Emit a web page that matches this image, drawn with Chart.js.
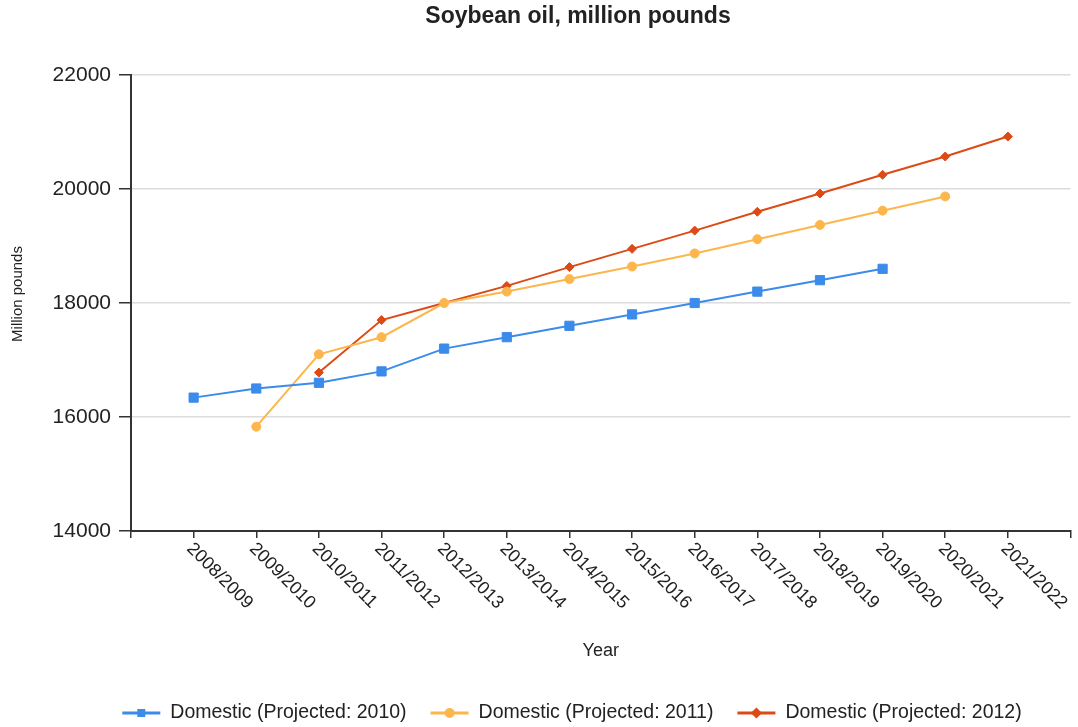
<!DOCTYPE html>
<html>
<head>
<meta charset="utf-8">
<script src="https://cdn.jsdelivr.net/npm/chart.js@4/dist/chart.umd.min.js"></script>
<style>
  html, body { margin: 0; padding: 0; background: #fff; }
  #wrap { width: 1078px; height: 727px; }
</style>
</head>
<body>
<div id="wrap"><canvas id="c" width="1078" height="727"></canvas></div>
<script>
// Marketing years on the horizontal axis
const marketingYears = [
  '2008/2009', '2009/2010', '2010/2011', '2011/2012', '2012/2013', '2013/2014', '2014/2015',
  '2015/2016', '2016/2017', '2017/2018', '2018/2019', '2019/2020', '2020/2021', '2021/2022'
];

// Domestic soybean oil use, million pounds, by projection vintage
const domestic2010 = [16340, 16500, 16600, 16800, 17200, 17400, 17600, 17800, 18000, 18200, 18400, 18600, null, null];
const domestic2011 = [null, 15830, 17100, 17400, 18000, 18200, 18420, 18640, 18870, 19120, 19370, 19620, 19870, null];
const domestic2012 = [null, null, 16780, 17700, 18000, 18300, 18630, 18950, 19270, 19600, 19920, 20250, 20570, 20920];

const seriesNames = ['Domestic (Projected: 2010)', 'Domestic (Projected: 2011)', 'Domestic (Projected: 2012)'];
const yTickValues = [14000, 16000, 18000, 20000, 22000];

const chartTitle = 'Soybean oil, million pounds';
const xAxisTitle = 'Year';
const yAxisTitle = 'Million pounds';

const FONT = "'Liberation Sans', Arial, sans-serif";
const TEXT = '#222222';
const AXIS = '#333333';

const styles = [
  { color: '#3b8beb', marker: 'rect', radius: 6.5 },
  { color: '#fcb64c', marker: 'circle', radius: 4.5 },
  { color: '#dc4a16', marker: 'rectRot', radius: 4.5 }
];

function toPoints(values) {
  return values.map((v, i) => (v == null ? null : { x: i, y: v })).filter(p => p);
}

const datasets = [domestic2010, domestic2011, domestic2012].map((vals, k) => ({
  label: seriesNames[k],
  data: toPoints(vals),
  borderColor: styles[k].color,
  backgroundColor: styles[k].color,
  borderWidth: 2,
  tension: 0,
  pointStyle: styles[k].marker,
  pointRadius: styles[k].radius,
  pointHoverRadius: styles[k].radius,
  pointBorderWidth: 1,
  pointBackgroundColor: styles[k].color,
  pointBorderColor: styles[k].color
}));

// Title, rotated category labels, vertical axis title and legend
const decorations = {
  id: 'decorations',
  afterDraw(chart) {
    const ctx = chart.ctx;
    const xs = chart.scales.x;
    const ys = chart.scales.y;
    ctx.save();
    ctx.fillStyle = TEXT;

    // chart title
    ctx.font = `bold 23px ${FONT}`;
    ctx.textAlign = 'center';
    ctx.textBaseline = 'middle';
    ctx.fillText(chartTitle, 578, 17);

    // category labels, turned 45 degrees clockwise
    ctx.font = `18px ${FONT}`;
    marketingYears.forEach((label, i) => {
      const px = xs.getPixelForValue(i);
      ctx.save();
      ctx.translate(px - 4, xs.top + 15);
      ctx.rotate(Math.PI / 4);
      ctx.textAlign = 'left';
      ctx.textBaseline = 'middle';
      ctx.fillText(label, 0, 0);
      ctx.restore();
    });

    // vertical axis title
    ctx.save();
    ctx.font = `15px ${FONT}`;
    ctx.translate(18, (ys.top + ys.bottom) / 2 - 9);
    ctx.rotate(-Math.PI / 2);
    ctx.textAlign = 'center';
    ctx.textBaseline = 'middle';
    ctx.fillText(yAxisTitle, 0, 0);
    ctx.restore();

    // legend
    ctx.font = `19.5px ${FONT}`;
    const lineLen = 38, textGap = 10, itemGap = 24;
    const widths = seriesNames.map(n => ctx.measureText(n).width);
    const total = widths.reduce((a, w) => a + lineLen + textGap + w, 0) + itemGap * (seriesNames.length - 1);
    let lx = 572 - total / 2;
    const ly = 713;
    seriesNames.forEach((name, k) => {
      const st = styles[k];
      ctx.strokeStyle = st.color;
      ctx.lineWidth = 3;
      ctx.beginPath();
      ctx.moveTo(lx, ly);
      ctx.lineTo(lx + lineLen, ly);
      ctx.stroke();
      ctx.fillStyle = st.color;
      Chart.helpers.drawPoint(ctx, { pointStyle: st.marker, radius: 3.5, borderWidth: 1 }, lx + lineLen / 2, ly);
      ctx.fillStyle = TEXT;
      ctx.textAlign = 'left';
      ctx.textBaseline = 'middle';
      ctx.fillText(name, lx + lineLen + textGap, ly);
      lx += lineLen + textGap + widths[k] + itemGap;
    });
    ctx.restore();
  }
};

new Chart(document.getElementById('c'), {
  type: 'line',
  data: { datasets },
  options: {
    responsive: false,
    animation: false,
    devicePixelRatio: 1,
    layout: { padding: { top: 75, right: 5, left: 0, bottom: 0 } },
    plugins: {
      legend: { display: false },
      title: { display: false },
      tooltip: { enabled: false }
    },
    scales: {
      x: {
        type: 'linear',
        min: -1,
        max: marketingYears.length,
        afterFit: s => { s.height = 196; },
        ticks: { stepSize: 1, display: false },
        grid: { drawOnChartArea: false, tickLength: 7, tickColor: AXIS, lineWidth: 1.5 },
        border: { color: AXIS, width: 2 },
        title: {
          display: true, text: xAxisTitle, color: TEXT,
          font: { family: FONT, size: 18 }, padding: { top: 0, bottom: 65 }
        }
      },
      y: {
        min: 14000,
        max: 22000,
        afterFit: s => { s.width = 131; },
        afterBuildTicks: s => { s.ticks = yTickValues.map(v => ({ value: v })); },
        ticks: {
          color: TEXT, padding: 8,
          font: { family: FONT, size: 21 },
          callback: v => String(v)
        },
        grid: { color: '#dcdcdc', lineWidth: 1.5, tickColor: AXIS, tickLength: 12 },
        border: { color: AXIS, width: 2 }
      }
    }
  },
  plugins: [decorations]
});
</script>
</body>
</html>
